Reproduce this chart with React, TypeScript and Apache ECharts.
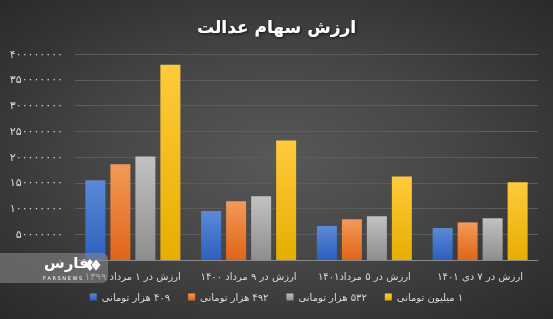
import React, { useEffect, useRef } from "react";
import * as echarts from "echarts";

const categories = [
  "ارزش در ۱ مرداد ۱۳۹۹",
  "ارزش در ۹ مرداد ۱۴۰۰",
  "ارزش در ۵ مرداد۱۴۰۱",
  "ارزش در ۷ دی ۱۴۰۱",
];
const seriesNames = ["۴۰۹ هزار تومانی", "۴۹۲ هزار تومانی", "۵۳۲ هزار تومانی", "۱ میلیون تومانی"];
const s409 = [155000000, 95000000, 66000000, 62000000];
const s492 = [186000000, 114000000, 79000000, 73000000];
const s532 = [201000000, 124000000, 85000000, 81000000];
const s1m = [379000000, 232000000, 162000000, 151000000];
const yTicks = [0, 50000000, 100000000, 150000000, 200000000, 250000000, 300000000, 350000000, 400000000];

const toFa = (v: number | string) =>
  String(v).replace(/[0-9]/g, (d) => "۰۱۲۳۴۵۶۷۸۹"[Number(d)]);
const rtl = (s: string) => "\u200F" + s + "\u200F";

const FONT = "DejaVu Sans";

const grad = (top: string, bottom: string) =>
  new echarts.graphic.LinearGradient(0, 0, 0, 1, [
    { offset: 0, color: top },
    { offset: 1, color: bottom },
  ]);

export default function App() {
  const ref = useRef<HTMLDivElement>(null);
  useEffect(() => {
    if (!ref.current) return;
    const chart = echarts.init(ref.current, null, { renderer: "svg" });
    const colors = [
      ["#5c8ad6", "#2d5fbe"],
      ["#f39a58", "#df6518"],
      ["#c2c2c2", "#8e8e8e"],
      ["#ffca3c", "#e6ae00"],
    ];
    const data = [s409, s492, s532, s1m];
    chart.setOption({
      animation: false,
      backgroundColor: "transparent",
      title: {
        text: "ارزش سهام عدالت",
        left: "center",
        top: 13,
        textStyle: {
          color: "#ffffff",
          fontSize: 17,
          fontWeight: "bold",
          fontFamily: FONT,
          textShadowColor: "rgba(0,0,0,0.7)",
          textShadowBlur: 3,
          textShadowOffsetX: 1,
          textShadowOffsetY: 1,
        },
      },
      legend: {
        bottom: 12,
        left: "center",
        icon: "rect",
        itemWidth: 7,
        itemHeight: 7,
        itemGap: 18,
        textStyle: { color: "#d9d9d9", fontSize: 10, fontFamily: FONT },
        data: seriesNames,
        formatter: (n: string) => rtl(n),
      },
      grid: { left: 75, right: 15, top: 54, bottom: 59, containLabel: false },
      xAxis: {
        type: "category",
        data: categories,
        axisLine: { lineStyle: { color: "#8a8a8a", width: 1 } },
        axisTick: { show: false },
        axisLabel: {
          color: "#d9d9d9",
          fontSize: 10,
          fontFamily: FONT,
          margin: 11,
          interval: 0,
          formatter: (s: string) => rtl(s),
        },
      },
      yAxis: {
        type: "value",
        min: yTicks[0],
        max: yTicks[yTicks.length - 1],
        interval: yTicks[1] - yTicks[0],
        showMinLabel: false,
        axisLine: { show: false },
        axisTick: { show: false },
        splitLine: { lineStyle: { color: "#5c5c5c", width: 1 } },
        axisLabel: {
          color: "#d9d9d9",
          fontSize: 11,
          fontFamily: FONT,
          margin: 12,
          formatter: (v: number) => toFa(v),
        },
      },
      series: data.map((d, i) => ({
        name: seriesNames[i],
        type: "bar",
        data: d,
        barWidth: 20,
        barGap: "25%",
        itemStyle: { color: grad(colors[i][0], colors[i][1]) },
      })),
      graphic: [
        {
          type: "rect",
          left: 0,
          top: 253,
          shape: { width: 108, height: 30, r: [0, 6, 6, 0] },
          style: { fill: "rgba(135,135,135,0.6)" },
          z: 100,
        },
        {
          type: "text",
          left: 44,
          top: 255,
          style: { text: "فارس", fill: "#ffffff", font: "bold 15px " + FONT },
          z: 101,
        },
        {
          type: "polygon",
          shape: { points: [[85, 265], [90, 259], [95, 265], [90, 271]] },
          style: { fill: "#ffffff" },
          z: 101,
        },
        {
          type: "polygon",
          shape: { points: [[91, 265], [96, 259], [101, 265], [96, 271]] },
          style: { fill: "#ffffff", stroke: "#7a7a7a", lineWidth: 1 },
          z: 101,
        },
        {
          type: "text",
          left: 43,
          top: 275,
          style: { text: "F A R S N E W S", fill: "#ffffff", font: "5px " + FONT },
          z: 101,
        },
      ],
    });
    return () => chart.dispose();
  }, []);
  return (
    <div
      style={{
        position: "fixed",
        left: 0,
        top: 0,
        width: 553,
        height: 319,
        background:
          "radial-gradient(ellipse at 50% 50%, #585858 0%, #464646 45%, #333333 80%, #2a2a2a 100%)",
      }}
    >
      <div ref={ref} style={{ width: 553, height: 319 }} />
    </div>
  );
}
